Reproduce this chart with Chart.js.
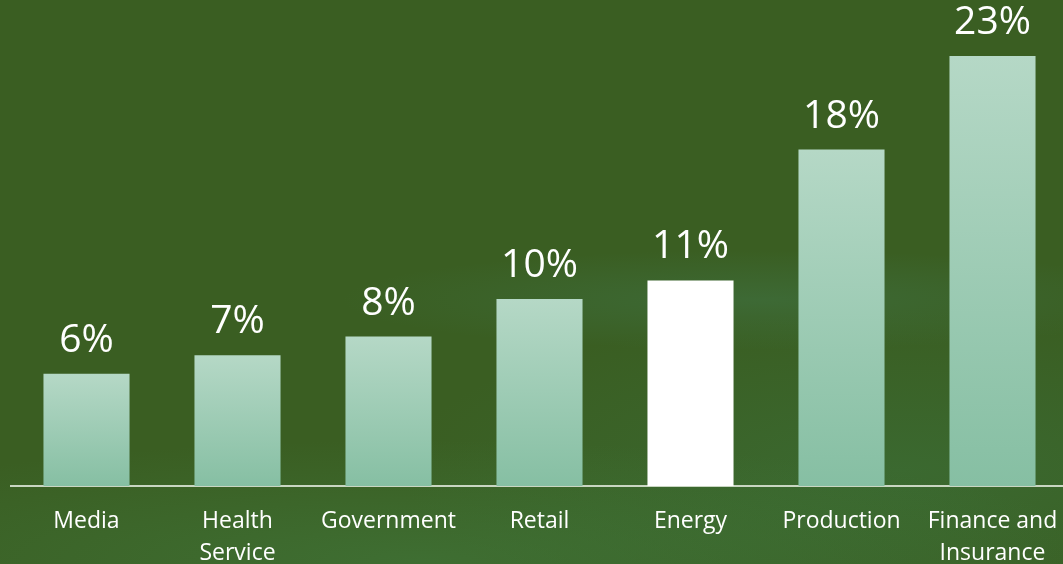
<!DOCTYPE html>
<html>
<head>
<meta charset="utf-8">
<script src="https://cdn.jsdelivr.net/npm/chart.js@4"></script>
<style>
  html, body { margin: 0; padding: 0; overflow: hidden; }
  body {
    width: 1063px; height: 564px;
    background:
      radial-gradient(ellipse 420px 50px at 760px 300px, rgba(70,140,110,0.25), rgba(70,140,110,0) 100%),
      radial-gradient(ellipse 700px 120px at 420px 560px, rgba(70,140,80,0.35), rgba(70,140,80,0) 100%),
      radial-gradient(ellipse 500px 160px at 900px 470px, rgba(60,130,80,0.30), rgba(60,130,80,0) 100%),
      #3a5e22;
  }
  #wrap { position: relative; width: 1068px; height: 564px; }
</style>
</head>
<body>
<div id="wrap"><canvas id="chart_elem"></canvas></div>
<script>
// sectors and their share (percent)
const sectors = ['Media', ['Health', 'Service'], 'Government', 'Retail', 'Energy', 'Production', ['Finance and', 'Insurance']];
const shares = [6, 7, 8, 10, 11, 18, 23];
const highlight = 'Energy';

const FONT = "'Open Sans', 'Noto Sans', sans-serif";

// light mint gradient per bar, white for the highlighted sector
const barColor = (ctx) => {
  const chart = ctx.chart;
  const label = sectors[ctx.dataIndex];
  if (label === highlight) return '#ffffff';
  if (!chart.chartArea) return '#a0ceb6';
  const y = chart.scales.y;
  const top = y.getPixelForValue(shares[ctx.dataIndex]);
  const bottom = y.getPixelForValue(0);
  const g = chart.ctx.createLinearGradient(0, top, 0, bottom);
  g.addColorStop(0, '#b5d8c6');
  g.addColorStop(1, '#86bfa3');
  return g;
};

// percent labels above each bar
const valueLabels = {
  id: 'valueLabels',
  afterDatasetsDraw(chart) {
    const ctx = chart.ctx;
    const meta = chart.getDatasetMeta(0);
    ctx.save();
    ctx.fillStyle = '#ffffff';
    ctx.font = '39px ' + FONT;
    ctx.textAlign = 'center';
    ctx.textBaseline = 'middle';
    meta.data.forEach((bar, i) => {
      ctx.fillText(shares[i] + '%', bar.x, bar.y - 33);
    });
    ctx.restore();
  }
};

const canvas = document.getElementById('chart_elem');

const chart = new Chart(canvas, {
  type: 'bar',
  data: {
    labels: sectors,
    datasets: [{
      data: shares,
      backgroundColor: barColor,
      borderWidth: 0,
      barPercentage: 0.57,
      categoryPercentage: 1
    }]
  },
  options: {
    responsive: true,
    maintainAspectRatio: false,
    animation: false,
    layout: { padding: { left: 11, right: 0, top: 0, bottom: 0 } },
    plugins: {
      legend: { display: false },
      tooltip: { enabled: false }
    },
    scales: {
      x: {
        grid: { display: false, drawTicks: false },
        border: { display: true, color: '#c9d6c2', width: 2 },
        ticks: {
          color: '#ffffff',
          font: { family: FONT, size: 23, lineHeight: 1.4 },
          padding: 19,
          maxRotation: 0,
          autoSkip: false
        },
        // fixed axis height, and let the outer labels run past the edges
        afterFit: (scale) => {
          scale.height = 78;
          scale.paddingLeft = 0;
          scale.paddingRight = 0;
        }
      },
      y: {
        display: false,
        min: 0,
        max: 26
      }
    }
  },
  plugins: [valueLabels]
});
</script>
</body>
</html>
